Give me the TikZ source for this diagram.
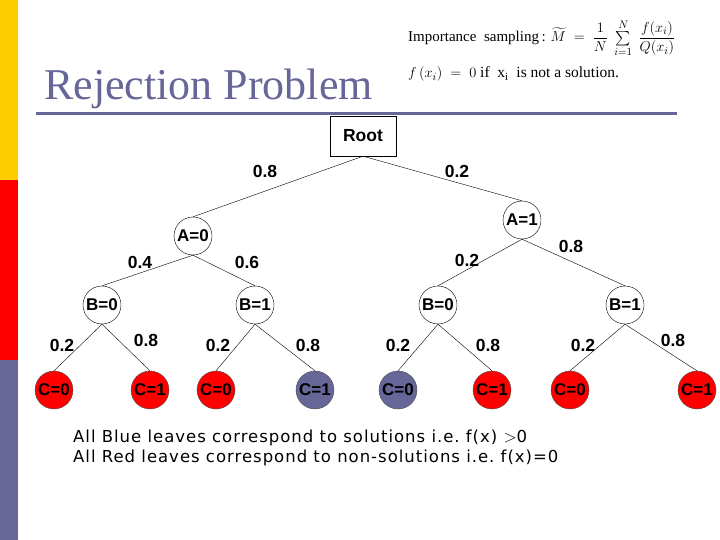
\documentclass[tikz,border=0pt]{standalone}
\usepackage{amsmath}
\usepackage{fontspec}
\setmainfont{Liberation Serif}
\newfontfamily\labelfont{Liberation Sans}
\newfontfamily\notefont[LetterSpace=6]{DejaVu Sans}
\usetikzlibrary{positioning,shapes.geometric}
\definecolor{slate}{HTML}{666699}
\definecolor{leafred}{HTML}{FF0000}
\definecolor{baryellow}{HTML}{FFCC00}

\begin{document}
\begin{tikzpicture}[
    x=1pt, y=-1pt,
    var/.style={draw, circle, inner sep=0pt, minimum size=38pt, font=\labelfont\bfseries\fontsize{17}{17}\selectfont},
    nosol/.style={var, fill=leafred, draw=black!70},
    sol/.style={var, fill=slate, draw=black!70},
    prob/.style={font=\labelfont\bfseries\fontsize{17.5}{17.5}\selectfont},
    edge/.style={thin}
]
\useasboundingbox (0,0) rectangle (720,540);
% side bars and heading
\fill[baryellow] (0,0) rectangle (18,180);
\fill[leafred] (0,180) rectangle (18,360);
\fill[slate] (0,360) rectangle (18,540);
\node[anchor=base west, inner sep=0pt, text=slate, font=\fontsize{44}{44}\selectfont] (title) at (44,100) {Rejection Problem};
\draw[slate, line width=3pt] (36,114) -- (677,114);
\node[anchor=base west, inner sep=0pt, font=\fontsize{15}{17}\selectfont] (sampling) at (408,42)
    {Importance\ \ sampling\,: $\widetilde{M}\;=\;\dfrac{1}{N}\;\sum\limits_{i=1}^{N}\;\dfrac{f(x_i)}{Q(x_i)}$};
\node[anchor=base west, inner sep=0pt, font=\fontsize{15.5}{17}\selectfont] (zero) at (408,78)
    {$f\,(x_i)\;=\;0$ if\ \ x\textsubscript{i}\ \ is not a solution.};

% tree
\node[draw, rectangle, minimum width=66pt, minimum height=40pt, font=\labelfont\bfseries\fontsize{17.5}{17.5}\selectfont] (root) at (363,136) {Root};
\node[var] (a0) at (193,236) {A=0};
\node[var] (a1) at (522,220) {A=1};
\node[var] (a0b0) at (102,305) {B=0};
\node[var] (a0b1) at (255,305) {B=1};
\node[var] (a1b0) at (438,305) {B=0};
\node[var] (a1b1) at (625,305) {B=1};
\node[nosol] (c1) at (54,390) {C=0};
\node[nosol] (c2) at (150,390) {C=1};
\node[nosol] (c3) at (216,390) {C=0};
\node[sol] (c4) at (315,390) {C=1};
\node[sol] (c5) at (398,390) {C=0};
\node[nosol] (c6) at (492,390) {C=1};
\node[nosol] (c7) at (570,390) {C=0};
\node[nosol] (c8) at (697,390) {C=1};

\draw[edge] (root.south) -- (a0.north);
\draw[edge] (root.south) -- (a1.north);
\draw[edge] (a0.south) -- (a0b0.north);
\draw[edge] (a0.south) -- (a0b1.north);
\draw[edge] (a1.south) -- (a1b0.north);
\draw[edge] (a1.south) -- (a1b1.north);
\draw[edge] (a0b0.south) -- (c1.north);
\draw[edge] (a0b0.south) -- (c2.north);
\draw[edge] (a0b1.south) -- (c3.north);
\draw[edge] (a0b1.south) -- (c4.north);
\draw[edge] (a1b0.south) -- (c5.north);
\draw[edge] (a1b0.south) -- (c6.north);
\draw[edge] (a1b1.south) -- (c7.north);
\draw[edge] (a1b1.south) -- (c8.north);

% branch probabilities
\node[prob] (pa0) at (265,171) {0.8};
\node[prob] (pa1) at (457,171) {0.2};
\node[prob] (pb1) at (140,262) {0.4};
\node[prob] (pb2) at (247,262) {0.6};
\node[prob] (pb3) at (467,260) {0.2};
\node[prob] (pb4) at (571,246) {0.8};
\node[prob] (pc1) at (62,345) {0.2};
\node[prob] (pc2) at (146,340) {0.8};
\node[prob] (pc3) at (218,345) {0.2};
\node[prob] (pc4) at (308,345) {0.8};
\node[prob] (pc5) at (398,345) {0.2};
\node[prob] (pc6) at (488,345) {0.8};
\node[prob] (pc7) at (583,345) {0.2};
\node[prob] (pc8) at (673,340) {0.8};

% caption
\node[anchor=base west, inner sep=0pt, align=left, font=\notefont\fontsize{16.5}{20}\selectfont] (note) at (73,462)
    {All Blue leaves correspond to solutions i.e.\ f(x) $>$0\\All Red leaves correspond to non-solutions i.e.\ f(x)=0};
\end{tikzpicture}
\end{document}
